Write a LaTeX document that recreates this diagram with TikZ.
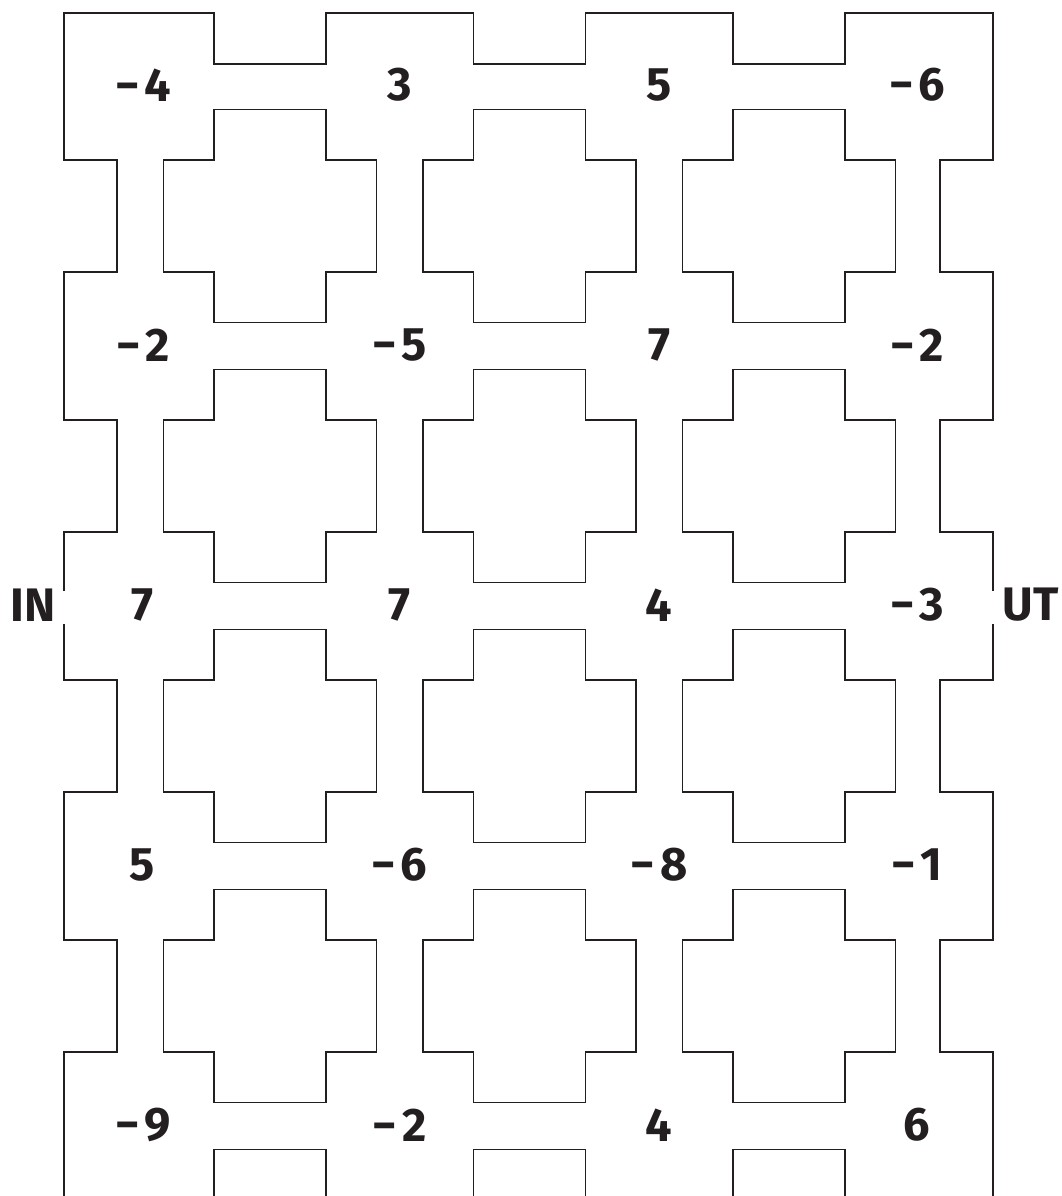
\documentclass[tikz,border=0pt]{standalone}
\usepackage{fontspec}
\setmainfont{Fira Sans}
\definecolor{ink}{RGB}{35,31,32}
\newcommand\mn{−\kern5pt}
\tikzset{
  wall/.style={draw=ink, line width=1.7pt, line join=miter},
  num/.style={text=ink, font=\fontsize{47}{47}\selectfont\bfseries, inner sep=0pt},
  side/.style={num}
}
\begin{document}
\begin{tikzpicture}[x=1pt, y=-1pt]
    \useasboundingbox (0,0) rectangle (1062,1196);
    \clip (0,0) rectangle (1062,1196);

    % holes between the cells
    \foreach \cx in {270,529.5,789}
      \foreach \cy in {216,476,736,996,1256}
        \draw[wall, shift={(\cx,\cy)}] (-56,-106.5) -- (56,-106.5) -- (56,-56) -- (106.5,-56)
          -- (106.5,56) -- (56,56) -- (56,106.5) -- (-56,106.5) -- (-56,56) -- (-106.5,56)
          -- (-106.5,-56) -- (-56,-56) -- cycle;

    % outer wall, open at IN and UT
    \draw[wall] (64,591) -- (64,532) -- (117,532) -- (117,420) -- (64,420) -- (64,272)
      -- (117,272) -- (117,160) -- (64,160) -- (64,13) -- (214,13) -- (214,64) -- (326,64)
      -- (326,13) -- (473.5,13) -- (473.5,64) -- (585.5,64) -- (585.5,13) -- (733,13)
      -- (733,64) -- (845,64) -- (845,13) -- (993,13) -- (993,160) -- (940,160) -- (940,272)
      -- (993,272) -- (993,420) -- (940,420) -- (940,532) -- (993,532) -- (993,591);
    \draw[wall] (64,624) -- (64,680) -- (117,680) -- (117,792) -- (64,792) -- (64,940)
      -- (117,940) -- (117,1052) -- (64,1052) -- (64,1200);
    \draw[wall] (993,624) -- (993,680) -- (940,680) -- (940,792) -- (993,792) -- (993,940)
      -- (940,940) -- (940,1052) -- (993,1052) -- (993,1200);

    % numbers
    \node[num] (a1) at (143,85) {\mn4};
    \node[num] (a2) at (399.5,85) {3};
    \node[num] (a3) at (659,85) {5};
    \node[num] (a4) at (917,85) {\mn6};
    \node[num] (b1) at (143,345) {\mn2};
    \node[num] (b2) at (399.5,345) {\mn5};
    \node[num] (b3) at (659,345) {7};
    \node[num] (b4) at (917,345) {\mn2};
    \node[num] (c1) at (142,605) {7};
    \node[num] (c2) at (399.5,605) {7};
    \node[num] (c3) at (659,605) {4};
    \node[num] (c4) at (917,605) {\mn3};
    \node[num] (d1) at (142,865) {5};
    \node[num] (d2) at (399.5,865) {\mn6};
    \node[num] (d3) at (659,865) {\mn8};
    \node[num] (d4) at (917,865) {\mn1};
    \node[num] (e1) at (143,1125) {\mn9};
    \node[num] (e2) at (399.5,1125) {\mn2};
    \node[num] (e3) at (659,1125) {4};
    \node[num] (e4) at (917,1125) {6};

    \node[side] (in) at (33,605) {IN};
    \node[side] (ut) at (1030.5,605) {UT};
\end{tikzpicture}
\end{document}
